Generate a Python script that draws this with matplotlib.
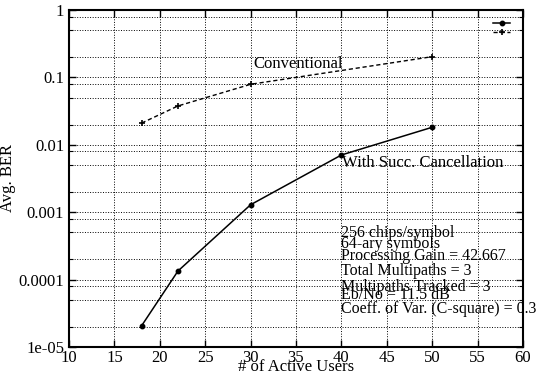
import matplotlib
matplotlib.use("Agg")
import matplotlib.pyplot as plt
from matplotlib.ticker import LogLocator, FixedLocator, NullFormatter, FixedFormatter

users_conv = [18, 22, 30, 50]
ber_conv = [0.021, 0.0377, 0.079, 0.203]
users_sic = [18, 22, 30, 40, 50]
ber_sic = [2.07e-5, 1.34e-4, 1.29e-3, 7.06e-3, 0.0182]
xticks = [10, 15, 20, 25, 30, 35, 40, 45, 50, 55, 60]
yticks = [1e-5, 1e-4, 1e-3, 1e-2, 1e-1, 1]
ytick_labels = ["1e-05", "0.0001", "0.001", "0.01", "0.1", "1"]
info_lines = ["256 chips/symbol", "64-ary symbols", "Processing Gain = 42.667",
              "Total Multipaths = 3", "Multipaths Tracked = 3", "Eb/No = 11.5 dB",
              "Coeff. of Var. (C-square) = 0.3"]

plt.rcParams['font.family'] = ['Liberation Serif', 'DejaVu Serif']
fig = plt.figure(figsize=(5.44, 3.81), dpi=100)
ax = fig.add_axes([69/544, 1-347/381, (523-69)/544, (347-10)/381])
ax.set_yscale('log')
ax.set_xlim(10, 60)
ax.set_ylim(1e-5, 1)

ax.plot(users_sic, ber_sic, color='black', lw=1.1, marker='o', ms=3.2, label=' ')
ax.plot(users_conv, ber_conv, color='black', lw=1.0, ls=(0, (3, 2)), marker='+', ms=4.5, mew=1.2, label=' ')

ax.xaxis.set_major_locator(FixedLocator(xticks))
ax.yaxis.set_major_locator(FixedLocator(yticks))
ax.yaxis.set_major_formatter(FixedFormatter(ytick_labels))
ax.yaxis.set_minor_locator(LogLocator(base=10, subs=[2, 5, 8]))
ax.yaxis.set_minor_formatter(NullFormatter())
ax.grid(True, which='major', color='black', ls=':', lw=0.7)
ax.grid(True, which='minor', axis='y', color='black', ls=':', lw=0.7)
ax.tick_params(which='both', direction='in', top=True, right=True, labelsize=12, colors='black')
ax.tick_params(axis='x', pad=2)
ax.tick_params(which='major', length=5, width=1)
ax.tick_params(which='minor', length=3, width=0.8)
for s in ax.spines.values():
    s.set_linewidth(1.5)

ax.set_xlabel('# of Active Users', fontsize=12, labelpad=-5)
ax.set_ylabel('Avg. BER', fontsize=12, labelpad=2)

def yv(p):
    return 10 ** (-(p - 10) / 67.4)

ax.text(30.3, yv(64), 'Conventional', fontsize=12, va='center', ha='left')
ax.text(40.1, yv(163), 'With Succ. Cancellation', fontsize=12, va='center', ha='left')
ys = [233, 244, 256, 271, 287, 295, 309]
for line, yp in zip(info_lines, ys):
    ax.text(40.0, yv(yp), line, fontsize=11.5, va='center', ha='left')

leg = ax.legend(loc='upper right', frameon=False, handlelength=2.0, fontsize=6,
                handletextpad=0.1, labelspacing=0.15, borderaxespad=0.8)

fig.savefig('out.png', dpi=100)
